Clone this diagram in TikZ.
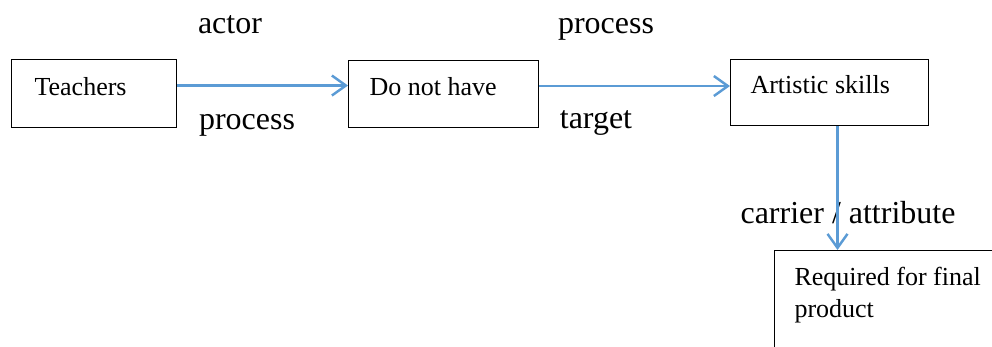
\documentclass[tikz,border=0pt]{standalone}
\usepackage{fontspec}
\setmainfont{Liberation Serif}
\usetikzlibrary{arrows.meta}
\definecolor{linkblue}{RGB}{91,155,213}
\begin{document}
\begin{tikzpicture}[x=0.02cm,y=-0.02cm]

      \useasboundingbox (0,0) rectangle (992,346);
      \clip (0,0) rectangle (992,346);

      \begin{scope}[every node/.style={draw, anchor=north west, inner ysep=0pt, align=flush left,
          line width=0.6pt, font=\fontsize{14.8}{18.2}\selectfont}]
        \node[inner xsep=0.46cm, text width=2.38cm, text height=0.72cm, text depth=0.64cm] (1) at (11,59)  {Teachers};
        \node[inner xsep=0.42cm, text width=2.96cm, text height=0.70cm, text depth=0.64cm] (2) at (348,60) {Do not have};
        \node[inner xsep=0.40cm, text width=3.16cm, text height=0.68cm, text depth=0.64cm] (3) at (730,59) {Artistic skills};
        \node[inner xsep=0.40cm, text width=3.92cm, text height=0.70cm, text depth=1.70cm] (4) at (774,250) {Required for final\\product};
      \end{scope}

      \begin{scope}[every node/.style={anchor=base, inner sep=0pt, font=\fontsize{18.2}{22}\selectfont}]
        \node (5) at (230,33)  {actor};
        \node (6) at (606,33)  {process};
        \node (7) at (247,129) {process};
        \node (8) at (596,128) {target};
        \node (9) at (848,223) {carrier / attribute};
      \end{scope}

      \begin{scope}[every edge/.style={draw, linkblue, line width=1.4pt,
          -{Straight Barb[length=0.28cm,width=0.4cm]}}]
        \path ([yshift=0.16cm]1.east)  edge ([yshift=0.16cm]1.east -| 2.west);
        \path ([yshift=0.16cm]2.east)  edge ([yshift=0.16cm]2.east -| 3.west);
        \path ([xshift=0.16cm]3.south) edge ([xshift=0.16cm]3.south |- 4.north);
      \end{scope}

    \end{tikzpicture}
\end{document}
